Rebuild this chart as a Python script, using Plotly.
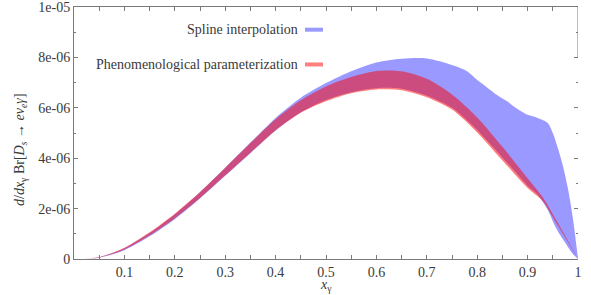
import plotly.graph_objects as go

# x_gamma sample points
x_red = [0.02, 0.05, 0.1, 0.15, 0.2, 0.25, 0.3, 0.35, 0.4, 0.45, 0.5, 0.55, 0.6, 0.65, 0.7,
         0.75, 0.8, 0.85, 0.9, 0.93, 0.95, 0.97, 1.0]
red_upper = [0, 0.08, 0.45, 1.06, 1.8, 2.66, 3.62, 4.6, 5.55, 6.3, 6.85, 7.22, 7.46, 7.45, 7.15,
             6.53, 5.62, 4.45, 3.2, 2.45, 1.78, 1.08, 0]
red_lower = [0, 0.06, 0.38, 0.94, 1.62, 2.42, 3.32, 4.22, 5.1, 5.8, 6.26, 6.58, 6.73, 6.7, 6.42,
             5.93, 5.02, 3.91, 2.82, 2.3, 1.66, 1.0, 0]

x_blue = [0.02, 0.05, 0.1, 0.15, 0.2, 0.25, 0.3, 0.35, 0.4, 0.45, 0.5, 0.55, 0.6, 0.65, 0.7,
          0.75, 0.78, 0.8, 0.82, 0.84, 0.86, 0.88, 0.9, 0.92, 0.94, 0.95, 0.96, 0.97, 0.98, 0.99, 1.0]
blue_upper = [0, 0.07, 0.43, 1.03, 1.78, 2.65, 3.62, 4.62, 5.6, 6.4, 6.98, 7.45, 7.8, 7.95, 7.96,
              7.7, 7.45, 7.1, 6.8, 6.5, 6.25, 5.95, 5.72, 5.6, 5.4, 5.0, 4.4, 3.7, 2.8, 1.6, 0]
blue_lower = [0, 0.05, 0.35, 0.9, 1.58, 2.4, 3.3, 4.2, 5.1, 5.82, 6.31, 6.62, 6.78, 6.76, 6.48,
              6.0, 5.5, 5.12, 4.68, 4.25, 3.8, 3.35, 2.9, 2.55, 1.95, 1.5, 1.1, 0.78, 0.48, 0.2, 0]

scale = 1e-6
x_ticks = [0.1, 0.2, 0.3, 0.4, 0.5, 0.6, 0.7, 0.8, 0.9, 1.0]
x_ticklabels = ["0.1", "0.2", "0.3", "0.4", "0.5", "0.6", "0.7", "0.8", "0.9", "1"]
y_ticks = [0, 2e-6, 4e-6, 6e-6, 8e-6, 1e-5]
y_ticklabels = ["0", "2e-06", "4e-06", "6e-06", "8e-06", "1e-05"]

legend_names = ["Spline interpolation", "Phenomenological parameterization"]
blue_fill = "rgba(0,0,255,0.4)"
red_fill = "rgba(255,0,0,0.5)"

font_family = "'Liberation Serif', 'DejaVu Serif', serif"
fs = 14
axis_col = "#7a7a7a"
text_col = "#3a3a3a"

fig = go.Figure()
fig.add_trace(go.Scatter(x=x_blue, y=[v * scale for v in blue_lower], mode="lines",
                         line=dict(width=0, shape="spline", smoothing=0.8),
                         hoverinfo="skip", showlegend=False))
fig.add_trace(go.Scatter(x=x_blue, y=[v * scale for v in blue_upper], mode="lines",
                         line=dict(width=0, shape="spline", smoothing=0.8),
                         fill="tonexty", fillcolor=blue_fill, name=legend_names[0],
                         showlegend=False))
fig.add_trace(go.Scatter(x=x_red, y=[v * scale for v in red_lower], mode="lines",
                         line=dict(width=0, shape="spline", smoothing=0.8),
                         hoverinfo="skip", showlegend=False))
fig.add_trace(go.Scatter(x=x_red, y=[v * scale for v in red_upper], mode="lines",
                         line=dict(width=0, shape="spline", smoothing=0.8),
                         fill="tonexty", fillcolor=red_fill, name=legend_names[1],
                         showlegend=False))
# invisible trace to activate right axis ticks
fig.add_trace(go.Scatter(x=[0], y=[0], yaxis="y2", mode="markers",
                         marker=dict(opacity=0), hoverinfo="skip", showlegend=False))

fig.update_layout(
    width=591, height=295,
    margin=dict(l=74, r=13, t=7, b=36, autoexpand=False),
    paper_bgcolor="white", plot_bgcolor="white",
    font=dict(family=font_family, size=fs, color=text_col),
    xaxis=dict(range=[0, 1], tickvals=x_ticks, ticktext=x_ticklabels, automargin=False,
               showgrid=False, zeroline=False, showline=True, linecolor=axis_col, linewidth=1,
               mirror="allticks", ticks="inside", ticklen=4, tickcolor=axis_col,
               ticklabeloverflow="allow",
               minor=dict(dtick=0.05, tick0=0, ticks="inside", ticklen=2, tickcolor=axis_col),
               tickfont=dict(size=fs, color=text_col, family=font_family)),
    yaxis=dict(range=[0, 1e-5], tickvals=y_ticks, ticktext=y_ticklabels, automargin=False,
               showgrid=False, zeroline=False, showline=True, linecolor=axis_col, linewidth=1,
               mirror=False, ticks="inside", ticklen=4, tickcolor=axis_col,
               ticklabeloverflow="allow",
               minor=dict(dtick=1e-6, tick0=0, ticks="inside", ticklen=2, tickcolor=axis_col),
               tickfont=dict(size=fs, color=text_col, family=font_family)),
    yaxis2=dict(range=[0, 1e-5], overlaying="y", side="right", tickvals=y_ticks,
                automargin=False,
                showticklabels=False, showgrid=False, zeroline=False, showline=False,
                ticks="inside", ticklen=4, tickcolor=axis_col,
                minor=dict(dtick=1e-6, tick0=0, ticks="inside", ticklen=2, tickcolor=axis_col)),
    showlegend=False,
)

# right border only on the upper part (as in the reference)
fig.add_shape(type="line", xref="x", yref="y", x0=1, x1=1, y0=8e-6, y1=1e-5,
              line=dict(color=axis_col, width=1))

# legend: text right aligned, colour sample to the right
fig.add_annotation(xref="paper", yref="y", x=(300 - 74) / 504, y=9.1e-6, xanchor="right",
                   yanchor="middle", text=legend_names[0], showarrow=False,
                   font=dict(size=fs, color=text_col, family=font_family))
fig.add_annotation(xref="paper", yref="y", x=(300 - 74) / 504, y=7.72e-6, xanchor="right",
                   yanchor="middle", text=legend_names[1], showarrow=False,
                   font=dict(size=fs, color=text_col, family=font_family))
fig.add_shape(type="line", xref="paper", yref="y", x0=(305 - 74) / 504, x1=(323 - 74) / 504,
              y0=9.1e-6, y1=9.1e-6, line=dict(color=blue_fill, width=4))
fig.add_shape(type="line", xref="paper", yref="y", x0=(305 - 74) / 504, x1=(323 - 74) / 504,
              y0=7.72e-6, y1=7.72e-6, line=dict(color=red_fill, width=4))

# axis titles
fig.add_annotation(xref="paper", yref="paper", x=0.5, y=-26 / 252, xanchor="center",
                   yanchor="middle", text="<i>x</i><sub>γ</sub>", showarrow=False,
                   font=dict(size=fs, color=text_col, family=font_family))
fig.add_annotation(xref="paper", yref="paper", x=(20 - 74) / 504, y=(259 - 150) / 252,
                   xanchor="center", yanchor="middle", textangle=-90,
                   text="<i>d</i>/<i>dx</i><sub>γ</sub> Br[<i>D</i><sub><i>s</i></sub> → <i>eν</i><sub><i>e</i></sub><i>γ</i>]",
                   showarrow=False, font=dict(size=fs, color=text_col, family=font_family))

fig.write_html("out.html", post_script="document.body.style.margin='0';",
               config={"displayModeBar": False})
